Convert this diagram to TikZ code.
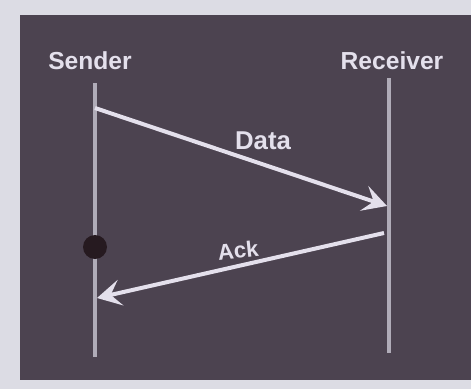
\documentclass[tikz,border=0pt]{standalone}
\usepackage{fontspec}
\setmainfont{Liberation Sans}
\usetikzlibrary{arrows.meta}
\definecolor{paperbg}{RGB}{220, 220, 228}
\definecolor{panelbg}{RGB}{76, 67, 80}
\definecolor{lifegray}{RGB}{176, 172, 184}
\definecolor{msgwhite}{RGB}{228, 224, 236}
\definecolor{dropdark}{RGB}{38, 26, 32}

\begin{document}
\begin{tikzpicture}[x=0.03cm, y=-0.03cm,
    every node/.style={font=\bfseries, text=msgwhite},
    lifeline/.style={line width=1.2mm, lifegray},
    message/.style={line width=1.2mm, msgwhite,
        -{Stealth[length=7.2mm, width=7.8mm, inset=3mm]}}]
    \useasboundingbox (0,0) rectangle (471,389);
    % Paper and dark panel
    \fill[paperbg] (0,0) rectangle (471,389);
    \fill[panelbg] (20,15) rectangle (471,380);

    % Hosts
    \node[font=\bfseries\fontsize{21}{24}\selectfont] (sender) at (90,61) {Sender};
    \node[font=\bfseries\fontsize{21}{24}\selectfont] (receiver) at (392,61) {Receiver};

    % Lifelines
    \coordinate (stop) at (95,83);
    \coordinate (sbot) at (95,357);
    \coordinate (rtop) at (389,78);
    \coordinate (rbot) at (389,353);
    \draw[lifeline] (stop) -- (sbot);
    \draw[lifeline] (rtop) -- (rbot);

    % Lost packet marker
    \node[circle, fill=dropdark, minimum size=24*0.03cm, inner sep=0pt] (drop) at (95,247) {};

    % Messages
    \coordinate (dstart) at (95,108);
    \coordinate (dend) at (387,206);
    \coordinate (astart) at (384,233);
    \coordinate (aend) at (97,298);
    \draw[message] (dstart) -- (dend);
    \draw[message] (astart) -- (aend);
    \node[font=\bfseries\fontsize{22}{26}\selectfont] (data) at (263,141) {Data};
    \node[font=\bfseries\fontsize{19}{22}\selectfont, rotate=6] (ack) at (238,250) {Ack};
\end{tikzpicture}
\end{document}
